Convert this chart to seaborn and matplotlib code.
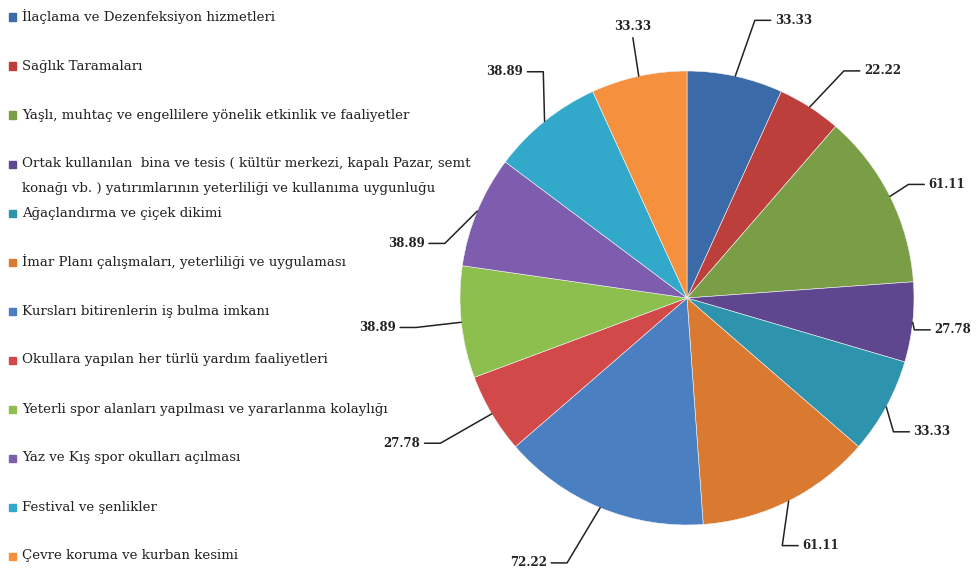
import matplotlib.pyplot as plt
import seaborn as sns
import numpy as np
from matplotlib.patches import Rectangle

sns.set_theme(style="white")
plt.rcParams["font.family"] = ["DejaVu Serif", "DejaVu Sans"]

categories = [
    "İlaçlama ve Dezenfeksiyon hizmetleri",
    "Sağlık Taramaları",
    "Yaşlı, muhtaç ve engellilere yönelik etkinlik ve faaliyetler",
    "Ortak kullanılan  bina ve tesis ( kültür merkezi, kapalı Pazar, semt\n"
    "konağı vb. ) yatırımlarının yeterliliği ve kullanıma uygunluğu",
    "Ağaçlandırma ve çiçek dikimi",
    "İmar Planı çalışmaları, yeterliliği ve uygulaması",
    "Kursları bitirenlerin iş bulma imkanı",
    "Okullara yapılan her türlü yardım faaliyetleri",
    "Yeterli spor alanları yapılması ve yararlanma kolaylığı",
    "Yaz ve Kış spor okulları açılması",
    "Festival ve şenlikler",
    "Çevre koruma ve kurban kesimi",
]
values = [33.33, 22.22, 61.11, 27.78, 33.33, 61.11,
          72.22, 27.78, 38.89, 38.89, 38.89, 33.33]
colors = ["#3A6AA8", "#BC3F3C", "#7A9E45", "#5E478E", "#2E93AC", "#DA7A30",
          "#4A80C2", "#D2494A", "#8DBF4F", "#7E5DAF", "#32A9CA", "#F5903F"]

# label placement: angle nudge (deg) from slice middle, distance in radii
label_layout = [(-8.7, 1.31), (-8, 1.32), (-3, 1.25), (-0.7, 1.18),
                (0, 1.23), (1.8, 1.24), (-8.4, 1.36), (-3.7, 1.41),
                (-0.7, 1.37), (11.5, 1.26), (0, 1.28), (-1, 1.22)]

W, H = 977, 569
fig = plt.figure(figsize=(W / 100, H / 100), dpi=100)

# pie axes: centre at (687, 298) px, radius 227 px
cx, cy, R = 687, 298, 227
left_px = 360
ax = fig.add_axes([left_px / W, 0, (W - left_px) / W, 1])

wedges, _ = ax.pie(values, colors=colors, startangle=90, counterclock=False,
                   radius=1.0, wedgeprops=dict(linewidth=0.4, edgecolor="#f4f4f4"))
ax.set_aspect("auto")
ax.set_xlim(-(cx - left_px) / R, (W - cx) / R)
ax.set_ylim(-(H - cy) / R, cy / R)
ax.axis("off")

for w, v, (nudge, r) in zip(wedges, values, label_layout):
    mid = np.deg2rad((w.theta1 + w.theta2) / 2)
    lab = mid + np.deg2rad(nudge)
    tx, ty = r * np.cos(lab), r * np.sin(lab)
    px, py = np.cos(mid), np.sin(mid)
    if abs(np.cos(lab)) < 0.3:
        end_y = ty - np.sign(ty) * 0.05
        ax.plot([px, tx], [py, end_y], color="#222222", lw=1.1)
    else:
        side = np.sign(tx)
        ax.plot([px, tx - side * 0.17, tx - side * 0.1], [py, ty, ty],
                color="#222222", lw=1.1)
    ax.text(tx, ty, f"{v:.2f}", ha="center", va="center", fontsize=8.5,
            fontweight="bold", color="#222222")

# legend on the left
for i, (lab, col) in enumerate(zip(categories, colors)):
    y = 17 + i * 49
    fig.patches.append(Rectangle((9 / W, 1 - (y + 3.5) / H), 7 / W, 7 / H,
                                 transform=fig.transFigure, color=col))
    for k, line in enumerate(lab.split("\n")):
        fig.text(22 / W, 1 - (y + k * 24) / H, line, ha="left", va="center",
                 fontsize=9.6, color="#222222")

fig.savefig("out.png", dpi=100, facecolor="white")
